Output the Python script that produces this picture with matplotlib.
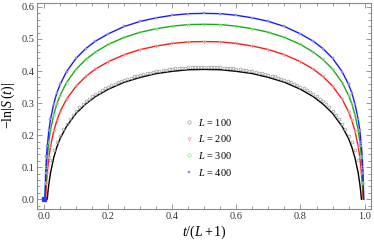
import numpy as np
import matplotlib
matplotlib.use("Agg")
import matplotlib.pyplot as plt
from matplotlib.ticker import MultipleLocator, FormatStrFormatter

plt.rcParams["font.family"] = "Liberation Serif"
plt.rcParams["mathtext.fontset"] = "custom"
plt.rcParams["mathtext.rm"] = "Liberation Serif"
plt.rcParams["mathtext.it"] = "Liberation Serif:italic"

# --- data ---
x_100 = [0.0, 0.0099, 0.0125, 0.015, 0.02, 0.03, 0.04, 0.05, 0.07, 0.1, 0.13, 0.16,
         0.2, 0.25, 0.3, 0.35, 0.4, 0.45, 0.5,
         0.55, 0.6, 0.65, 0.7, 0.75, 0.8, 0.84, 0.87, 0.9, 0.93, 0.95, 0.96,
         0.97, 0.98, 0.985, 0.9875, 0.9901]
y_100 = [0.0, 0.0, 0.027, 0.048, 0.082, 0.129, 0.163, 0.189, 0.227, 0.268, 0.297, 0.320,
         0.343, 0.365, 0.380, 0.392, 0.399, 0.404, 0.405,
         0.404, 0.399, 0.392, 0.380, 0.365, 0.343, 0.320, 0.297, 0.268, 0.227, 0.189, 0.163,
         0.129, 0.082, 0.048, 0.027, 0.0]

x_200 = [0.0, 0.005, 0.0075, 0.01, 0.015, 0.02, 0.03, 0.04, 0.05, 0.07, 0.1, 0.13, 0.16,
         0.2, 0.25, 0.3, 0.35, 0.4, 0.45, 0.5,
         0.55, 0.6, 0.65, 0.7, 0.75, 0.8, 0.84, 0.87, 0.9, 0.93, 0.95, 0.96,
         0.97, 0.98, 0.985, 0.99, 0.9925, 0.995]
y_200 = [0.0, 0.0, 0.051, 0.083, 0.131, 0.165, 0.212, 0.246, 0.273, 0.312, 0.353, 0.383, 0.406,
         0.429, 0.451, 0.467, 0.478, 0.486, 0.491, 0.492,
         0.491, 0.486, 0.478, 0.467, 0.451, 0.429, 0.406, 0.383, 0.353, 0.312, 0.273, 0.246,
         0.212, 0.165, 0.131, 0.083, 0.051, 0.0]

x_300 = [0.0, 0.0033, 0.005, 0.0075, 0.01, 0.015, 0.02, 0.03, 0.04, 0.05, 0.07, 0.1, 0.13, 0.16,
         0.2, 0.25, 0.3, 0.35, 0.4, 0.45, 0.5,
         0.55, 0.6, 0.65, 0.7, 0.75, 0.8, 0.84, 0.87, 0.9, 0.93, 0.95, 0.96,
         0.97, 0.98, 0.985, 0.99, 0.9925, 0.995, 0.9967]
y_300 = [0.0, 0.0, 0.049, 0.100, 0.132, 0.180, 0.215, 0.263, 0.298, 0.324, 0.364, 0.406, 0.436, 0.459,
         0.483, 0.505, 0.521, 0.532, 0.540, 0.545, 0.546,
         0.545, 0.540, 0.532, 0.521, 0.505, 0.483, 0.459, 0.436, 0.406, 0.364, 0.324, 0.298,
         0.263, 0.215, 0.180, 0.132, 0.100, 0.049, 0.0]

x_400 = [0.0, 0.0025, 0.005, 0.0075, 0.01, 0.015, 0.02, 0.03, 0.04, 0.05, 0.07, 0.1, 0.13, 0.16,
         0.2, 0.25, 0.3, 0.35, 0.4, 0.45, 0.5,
         0.55, 0.6, 0.65, 0.7, 0.75, 0.8, 0.84, 0.87, 0.9, 0.93, 0.95, 0.96,
         0.97, 0.98, 0.985, 0.99, 0.9925, 0.995, 0.9975]
y_400 = [0.0, 0.0, 0.083, 0.134, 0.166, 0.215, 0.249, 0.297, 0.332, 0.358, 0.398, 0.440, 0.470, 0.493,
         0.516, 0.539, 0.555, 0.566, 0.574, 0.579, 0.580,
         0.579, 0.574, 0.566, 0.555, 0.539, 0.516, 0.493, 0.470, 0.440, 0.398, 0.358, 0.332,
         0.297, 0.249, 0.215, 0.166, 0.134, 0.083, 0.0]

# numerical points for L = 100 (gray circles), t/(L+1) from 0.02 to 0.98
dots_x = np.arange(2, 99) / 100
dots_y = [0.122, 0.153, 0.177, 0.198, 0.219, 0.235, 0.251, 0.264, 0.276, 0.287,
          0.296, 0.305, 0.313, 0.321, 0.328, 0.334, 0.340, 0.346, 0.351, 0.356,
          0.360, 0.365, 0.369, 0.372, 0.376, 0.379, 0.383, 0.385, 0.388, 0.391,
          0.393, 0.395, 0.398, 0.400, 0.401, 0.403, 0.404, 0.406, 0.407, 0.408,
          0.409, 0.410, 0.411, 0.412, 0.412, 0.412, 0.413, 0.413, 0.413,
          0.413, 0.413, 0.412, 0.412, 0.412, 0.411, 0.410, 0.409, 0.408, 0.407,
          0.406, 0.404, 0.403, 0.401, 0.400, 0.398, 0.395, 0.393, 0.391, 0.388,
          0.385, 0.383, 0.379, 0.376, 0.372, 0.369, 0.365, 0.360, 0.356, 0.351,
          0.346, 0.340, 0.334, 0.328, 0.321, 0.313, 0.305, 0.296, 0.287, 0.276,
          0.264, 0.251, 0.235, 0.219, 0.198, 0.177, 0.153, 0.122]

fig = plt.figure(figsize=(3.74, 2.46), dpi=100)
ax = fig.add_axes([0.099, 0.150, 0.893, 0.838])

frame = "#8a8a8a"
lw = 1.0

# fitted curves
ax.plot(x_100, y_100, color="black", lw=lw)
ax.plot(x_200, y_200, color="#ff1a1a", lw=lw)
ax.plot(x_300, y_300, color="#1aaa1a", lw=lw)
ax.plot(x_400, y_400, color="#1a1aff", lw=lw)

# data markers
ax.plot(dots_x, dots_y, ls="none", marker="o", ms=2.0, mfc="none", mec="#9a9a9a",
        mew=0.5, label=r"$L$ = 100")
ax.plot(x_200[2:-1], y_200[2:-1], ls="none", marker="v", ms=2.0, mfc="none", mec="#ff9a9a",
        mew=0.5, label=r"$L$ = 200")
ax.plot(x_300[2:-1], y_300[2:-1], ls="none", marker="o", ms=2.0, mfc="none", mec="#9adc9a",
        mew=0.5, label=r"$L$ = 300")
ax.plot(x_400[2:-1], y_400[2:-1], ls="none", marker="s", ms=1.6, mfc="#8a8aff", mec="#8a8aff",
        mew=0.3, label=r"$L$ = 400")
ax.plot([0.0], [0.0], ls="none", marker="s", ms=2.2, color="#3030ff")

ax.set_xlim(-0.022, 1.02)
ax.set_ylim(-0.031, 0.6125)

ax.xaxis.set_major_locator(MultipleLocator(0.2))
ax.xaxis.set_minor_locator(MultipleLocator(0.05))
ax.yaxis.set_major_locator(MultipleLocator(0.1))
ax.yaxis.set_minor_locator(MultipleLocator(0.02))
ax.xaxis.set_major_formatter(FormatStrFormatter("%.1f"))
ax.yaxis.set_major_formatter(FormatStrFormatter("%.1f"))

ax.tick_params(which="both", direction="in", top=True, right=True, color=frame,
               labelsize=7.5, labelcolor="#333333", width=0.6)
ax.tick_params(which="major", length=3.5, pad=2)
ax.tick_params(which="minor", length=2)
for s in ax.spines.values():
    s.set_color(frame)
    s.set_linewidth(0.8)

ax.set_xlabel(r"$t/(L+1)$", fontsize=10, labelpad=2)
ax.set_ylabel(r"$-\ln|S\,(t)|$", fontsize=10, labelpad=3)

ax.legend(loc="center left", bbox_to_anchor=(0.42, 0.30), frameon=False, fontsize=7.5,
          handlelength=0.8, handletextpad=0.5, labelspacing=0.55, borderpad=0.2,
          markerscale=1.2)

fig.savefig("out.png", dpi=100)
